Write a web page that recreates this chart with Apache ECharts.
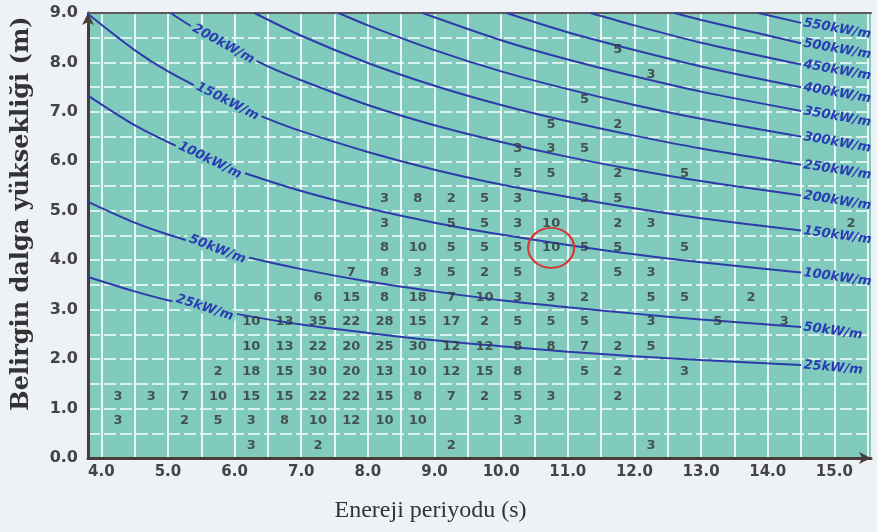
<!DOCTYPE html>
<html>
<head>
<meta charset="utf-8">
<script src="https://cdn.jsdelivr.net/npm/echarts@6/dist/echarts.min.js"></script>
<style>
  html, body { margin: 0; padding: 0; background: #eef2f6; }
  #chart { width: 877px; height: 532px; }
</style>
</head>
<body>
<div id="chart"></div>
<script>
// ---- Data ----
// Cell centres: energy period (s) and significant wave height (m)
const periods = [4.25, 4.75, 5.25, 5.75, 6.25, 6.75, 7.25, 7.75, 8.25, 8.75, 9.25, 9.75,
                 10.25, 10.75, 11.25, 11.75, 12.25, 12.75, 13.25, 13.75, 14.25, 14.75, 15.25];
const heights = [0.25, 0.75, 1.25, 1.75, 2.25, 2.75, 3.25, 3.75, 4.25, 4.75, 5.25, 5.75,
                 6.25, 6.75, 7.25, 7.75, 8.25];
// Occurrence counts per height row (bottom to top), one value per period column; 0 = empty
const row025 = [0,0,0,0,3,0,2,0,0,0,2,0,0,0,0,0,3,0,0,0,0,0,0];
const row075 = [3,0,2,5,3,8,10,12,10,10,0,0,3,0,0,0,0,0,0,0,0,0,0];
const row125 = [3,3,7,10,15,15,22,22,15,8,7,2,5,3,0,2,0,0,0,0,0,0,0];
const row175 = [0,0,0,2,18,15,30,20,13,10,12,15,8,0,5,2,0,3,0,0,0,0,0];
const row225 = [0,0,0,0,10,13,22,20,25,30,12,12,8,8,7,2,5,0,0,0,0,0,0];
const row275 = [0,0,0,0,10,13,35,22,28,15,17,2,5,5,5,0,3,0,5,0,3,0,0];
const row325 = [0,0,0,0,0,0,6,15,8,18,7,10,3,3,2,0,5,5,0,2,0,0,0];
const row375 = [0,0,0,0,0,0,0,7,8,3,5,2,5,0,0,5,3,0,0,0,0,0,0];
const row425 = [0,0,0,0,0,0,0,0,8,10,5,5,5,10,5,5,0,5,0,0,0,0,0];
const row475 = [0,0,0,0,0,0,0,0,3,0,5,5,3,10,0,2,3,0,0,0,0,0,2];
const row525 = [0,0,0,0,0,0,0,0,3,8,2,5,3,0,3,5,0,0,0,0,0,0,0];
const row575 = [0,0,0,0,0,0,0,0,0,0,0,0,5,5,0,2,0,5,0,0,0,0,0];
const row625 = [0,0,0,0,0,0,0,0,0,0,0,0,3,3,5,0,0,0,0,0,0,0,0];
const row675 = [0,0,0,0,0,0,0,0,0,0,0,0,0,5,0,2,0,0,0,0,0,0,0];
const row725 = [0,0,0,0,0,0,0,0,0,0,0,0,0,0,5,0,0,0,0,0,0,0,0];
const row775 = [0,0,0,0,0,0,0,0,0,0,0,0,0,0,0,0,3,0,0,0,0,0,0];
const row825 = [0,0,0,0,0,0,0,0,0,0,0,0,0,0,0,5,0,0,0,0,0,0,0];
const countRows = [row025,row075,row125,row175,row225,row275,row325,row375,row425,
                   row475,row525,row575,row625,row675,row725,row775,row825];

// Highlighted cell (red circle)
const highlightCell = [10.75, 4.25];

// Wave-power contour lines: [period, height] points
const powerLabels = ['25kW/m','50kW/m','100kW/m','150kW/m','200kW/m','250kW/m',
                     '300kW/m','350kW/m','400kW/m','450kW/m','500kW/m','550kW/m'];
const curve25  = [[3.8,3.66],[4.5,3.37],[5,3.19],[5.55,3.04],[6,2.92],[7,2.70],[8,2.53],[9,2.38],[10,2.26],[11,2.15],[12,2.06],[13,1.98],[14.5,1.88]];
const curve50  = [[3.8,5.18],[4.5,4.76],[5,4.52],[5.74,4.22],[6,4.12],[7,3.82],[8,3.57],[9,3.37],[10,3.19],[11,3.05],[12,2.92],[13,2.80],[14.5,2.65]];
const curve100 = [[3.8,7.33],[4.5,6.73],[5,6.39],[5.63,6.02],[6,5.83],[7,5.40],[8,5.05],[9,4.76],[10,4.52],[11,4.31],[12,4.12],[13,3.96],[14.5,3.75]];
const curve150 = [[3.8,8.98],[4.5,8.25],[5,7.82],[5.89,7.21],[6.5,6.86],[7,6.61],[8,6.19],[9,5.83],[10,5.53],[11,5.28],[12,5.05],[13,4.85],[14.5,4.60]];
const curve200 = [[5.04,9.0],[5.4,8.69],[5.83,8.37],[6.5,7.92],[7,7.64],[8,7.14],[9,6.73],[10,6.39],[11,6.09],[12,5.83],[13,5.60],[14.5,5.31]];
const curve250 = [[6.3,9.0],[7,8.54],[8,7.99],[9,7.53],[10,7.14],[11,6.81],[12,6.52],[13,6.26],[14.5,5.93]];
const curve300 = [[7.56,9.0],[8,8.75],[9,8.25],[10,7.82],[11,7.46],[12,7.14],[13,6.86],[14.5,6.50]];
const curve350 = [[8.82,9.0],[10,8.45],[11,8.06],[12,7.72],[13,7.41],[14.5,7.02]];
const curve400 = [[10.08,9.0],[11,8.61],[12,8.25],[13,7.92],[14.5,7.50]];
const curve450 = [[11.34,9.0],[12,8.75],[13,8.40],[14.5,7.96]];
const curve500 = [[12.6,9.0],[13,8.86],[14.5,8.39]];
const curve550 = [[13.86,9.0],[14.5,8.80]];
const curves = [curve25,curve50,curve100,curve150,curve200,curve250,curve300,curve350,curve400,curve450,curve500,curve550];
// index of the point carrying the inline label (-1 = none)
const inlineLabelIndex = [3,3,3,3,2,-1,-1,-1,-1,-1,-1,-1];

// Axis ticks
const xGridTicks = [4,4.5,5,5.5,6,6.5,7,7.5,8,8.5,9,9.5,10,10.5,11,11.5,12,12.5,13,13.5,14,14.5,15,15.5];
const xLabelTicks = [4,5,6,7,8,9,10,11,12,13,14,15];

// ---- Build chart ----
const TEAL = '#80cbbe';
const LINE_BLUE = '#2d3ca8';
const LABEL_BLUE = '#2a3bb4';

const cellData = [];
countRows.forEach((row, k) => {
  row.forEach((n, j) => { if (n > 0) cellData.push([periods[j], heights[k], n]); });
});

const endRotate = [-5,-8,-8,-8,-9,-9,-10,-10,-10,-10,-10,-10];
const inlineRotate = [-18,-21,-26,-27,-29];

const curveSeries = curves.map((pts, ci) => ({
  type: 'line',
  xAxisIndex: 0, yAxisIndex: 0,
  smooth: 0.3,
  symbol: 'circle', symbolSize: 1,
  showAllSymbol: true,
  itemStyle: { color: 'rgba(0,0,0,0)' },
  lineStyle: { color: LINE_BLUE, width: 2 },
  silent: true,
  z: 3,
  data: pts.map((p, i) => {
    if (i === pts.length - 1) {
      return { value: p, label: {
        show: true, position: 'right', distance: 2, rotate: endRotate[ci],
        formatter: powerLabels[ci], color: LABEL_BLUE,
        fontFamily: 'DejaVu Sans', fontStyle: 'italic', fontWeight: 'bold', fontSize: 13
      }};
    }
    if (i === inlineLabelIndex[ci]) {
      return { value: p, label: {
        show: true, position: 'inside', rotate: inlineRotate[ci],
        formatter: powerLabels[ci], color: LABEL_BLUE,
        backgroundColor: TEAL, padding: [0, 3],
        fontFamily: 'DejaVu Sans', fontStyle: 'italic', fontWeight: 'bold', fontSize: 13
      }};
    }
    return p;
  })
}));

const option = {
  animation: false,
  backgroundColor: '#eef2f6',
  grid: {
    left: 88, right: 6, top: 13, bottom: 74,
    show: true, backgroundColor: TEAL, borderWidth: 0
  },
  xAxis: [{
    type: 'value', min: 3.8, max: 15.55,
    name: 'Enereji periyodu (s)', nameLocation: 'middle', nameGap: 41,
    nameTextStyle: { fontFamily: 'Liberation Serif', fontSize: 24, color: '#333', padding: [0, 98, 0, 0] },
    axisLine: { show: true, onZero: false, lineStyle: { color: '#4a3c38', width: 3 },
                symbol: ['none', 'arrow'], symbolSize: [9, 12] },
    axisTick: { show: false, customValues: xGridTicks },
    axisLabel: { customValues: xLabelTicks, formatter: v => Number(v).toFixed(1),
                 fontFamily: 'DejaVu Sans', fontWeight: 'bold', fontSize: 15, color: '#444', margin: 7 },
    splitLine: { show: true, lineStyle: { color: 'rgba(255,255,255,0.8)', width: 2 } }
  }, {
    type: 'value', min: 3.8, max: 15.55, position: 'top',
    axisLine: { show: true, onZero: false, lineStyle: { color: '#5a5a5a', width: 2 } },
    axisTick: { show: false }, axisLabel: { show: false }, splitLine: { show: false }
  }],
  yAxis: [{
    type: 'value', min: 0, max: 9, interval: 0.5,
    name: 'Belirgin dalga yüksekliği (m)', nameLocation: 'middle', nameGap: 54,
    nameTextStyle: { fontFamily: 'DejaVu Serif', fontWeight: 'bold', fontSize: 24, color: '#333', padding: [0, 0, 0, 44] },
    axisLine: { show: true, onZero: false, lineStyle: { color: '#4a3c38', width: 3 },
                symbol: ['none', 'arrow'], symbolSize: [9, 12] },
    axisTick: { show: false },
    axisLabel: { interval: 0, formatter: v => (Math.abs(v % 1) < 1e-9 ? Number(v).toFixed(1) : ''),
                 fontFamily: 'DejaVu Sans', fontWeight: 'bold', fontSize: 16, color: '#444', margin: 10 },
    splitLine: { show: true, lineStyle: { color: 'rgba(255,255,255,0.7)', width: 2, type: [12, 4] } }
  }],
  series: [
    ...curveSeries,
    {
      type: 'scatter',
      xAxisIndex: 0, yAxisIndex: 0,
      symbol: 'circle', symbolSize: 1,
      itemStyle: { color: 'rgba(0,0,0,0)' },
      silent: true,
      z: 4,
      label: {
        show: true, position: 'inside',
        formatter: p => String(p.value[2]),
        fontFamily: 'DejaVu Sans', fontWeight: 'bold', fontSize: 13, color: '#333'
      },
      data: cellData,
      markPoint: {
        silent: true,
        symbol: 'circle', symbolSize: [46, 40],
        itemStyle: { color: 'rgba(0,0,0,0)', borderColor: '#d8352e', borderWidth: 2 },
        label: { show: false },
        data: [{ coord: highlightCell }]
      }
    }
  ]
};

const chart = echarts.init(document.getElementById('chart'), null, { renderer: 'canvas' });
chart.setOption(option);
</script>
</body>
</html>
